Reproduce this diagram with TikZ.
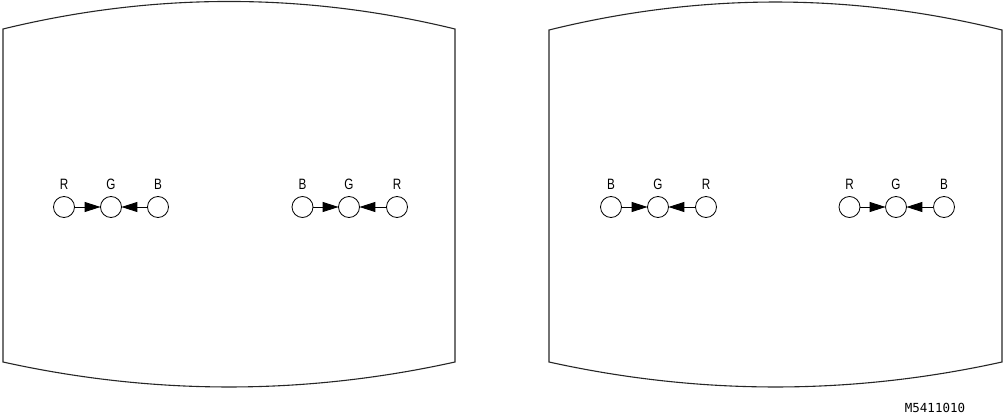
\documentclass[tikz,border=0pt]{standalone}
\usepackage{fontspec}
\setsansfont{Liberation Sans}[FakeStretch=0.78]
\newfontfamily\codefont{DejaVu Sans Mono}
\usetikzlibrary{arrows.meta}
\tikzset{
  screen/.style={draw=black!85, line width=1.1pt},
  dot/.style={circle, draw, line width=0.8pt, minimum size=21pt, inner sep=0pt},
  lbl/.style={font=\sffamily\fontsize{15}{16}\selectfont, inner sep=0pt},
  feed/.style={line width=0.9pt, -{Triangle[length=16pt,width=10pt]}, shorten >=-0.5pt}
}
\begin{document}
\begin{tikzpicture}[x=1pt,y=-1pt]
\useasboundingbox (0,0) rectangle (1005,415);
% screens
\draw[screen] (3,362) -- (3,29) .. controls (153.7,-7.7) and (304.3,-7.7) .. (455,29) -- (455,362) .. controls (304.3,395.3) and (153.7,395.3) .. (3,362) -- cycle;
\draw[screen] (549,362) -- (549,30) .. controls (700,-7.3) and (851,-7.3) .. (1002,30) -- (1002,362) .. controls (851,395.3) and (700,395.3) .. (549,362) -- cycle;
% group 1: R G B
\node[dot] (a1) at (64,207) {};
\node[dot] (a2) at (111,207) {};
\node[dot] (a3) at (158,207) {};
\node[lbl] (la1) at (64,184) {R};
\node[lbl] (la2) at (111,184) {G};
\node[lbl] (la3) at (158,184) {B};
\draw[feed] (a1) -- (a2);
\draw[feed] (a3) -- (a2);
% group 2: B G R
\node[dot] (b1) at (302.5,207) {};
\node[dot] (b2) at (349,207) {};
\node[dot] (b3) at (397,207) {};
\node[lbl] (lb1) at (302.5,184) {B};
\node[lbl] (lb2) at (349,184) {G};
\node[lbl] (lb3) at (397,184) {R};
\draw[feed] (b1) -- (b2);
\draw[feed] (b3) -- (b2);
% group 3: B G R
\node[dot] (c1) at (611,207) {};
\node[dot] (c2) at (658,207) {};
\node[dot] (c3) at (706,207) {};
\node[lbl] (lc1) at (611,184) {B};
\node[lbl] (lc2) at (658,184) {G};
\node[lbl] (lc3) at (706,184) {R};
\draw[feed] (c1) -- (c2);
\draw[feed] (c3) -- (c2);
% group 4: R G B
\node[dot] (d1) at (849.5,207) {};
\node[dot] (d2) at (896,207) {};
\node[dot] (d3) at (944,207) {};
\node[lbl] (ld1) at (849.5,184) {R};
\node[lbl] (ld2) at (896,184) {G};
\node[lbl] (ld3) at (944,184) {B};
\draw[feed] (d1) -- (d2);
\draw[feed] (d3) -- (d2);
% figure code
\node[font=\codefont\fontsize{12.5}{13}\selectfont, inner sep=0pt] (code) at (935,408) {M5411010};
\end{tikzpicture}
\end{document}
